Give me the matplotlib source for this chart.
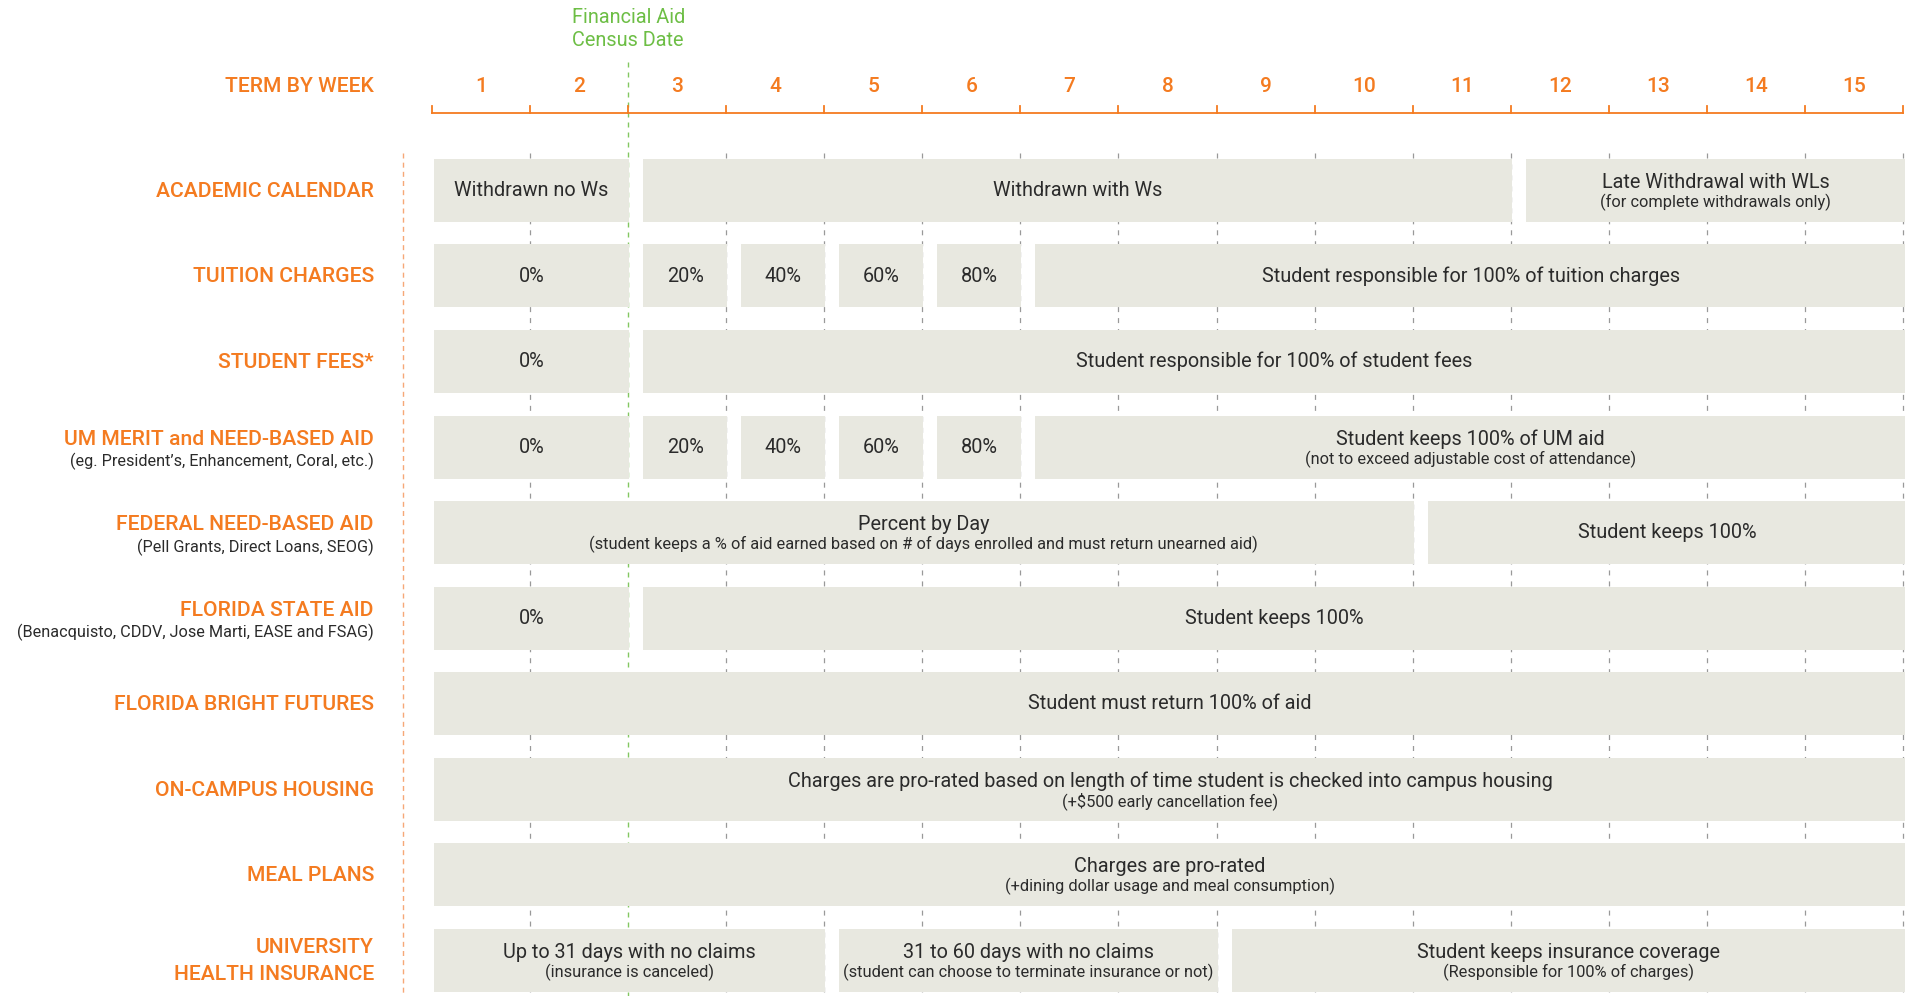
import matplotlib
matplotlib.use("Agg")
import matplotlib.pyplot as plt

plt.rcParams['font.family'] = ['Roboto', 'DejaVu Sans']
plt.rcParams['lines.scale_dashes'] = False

ORANGE = '#F47B20'
ORANGE_LIGHT = '#F6A877'
GREEN = '#6DBE45'
BAR = '#E8E8E0'
INK = '#2B2B2B'
GRID = '#999999'

# Data
weeks = list(range(1, 16))
census_week = 2

row_labels = ["ACADEMIC CALENDAR", "TUITION CHARGES", "STUDENT FEES*",
              "UM MERIT and NEED-BASED AID", "FEDERAL NEED-BASED AID",
              "FLORIDA STATE AID", "FLORIDA BRIGHT FUTURES",
              "ON-CAMPUS HOUSING", "MEAL PLANS", "UNIVERSITY\nHEALTH INSURANCE"]
row_notes = ["", "", "",
             "(eg. President\u2019s, Enhancement, Coral, etc.)",
             "(Pell Grants, Direct Loans, SEOG)",
             "(Benacquisto, CDDV, Jose Marti, EASE and FSAG)",
             "", "", "", ""]

# (start week, end week, text, small text)
academic = [(0, 2, "Withdrawn no Ws", ""),
            (2, 11, "Withdrawn with Ws", ""),
            (11, 15, "Late Withdrawal with WLs", "(for complete withdrawals only)")]
tuition = [(0, 2, "0%", ""), (2, 3, "20%", ""), (3, 4, "40%", ""),
           (4, 5, "60%", ""), (5, 6, "80%", ""),
           (6, 15, "Student responsible for 100% of tuition charges", "")]
fees = [(0, 2, "0%", ""),
        (2, 15, "Student responsible for 100% of student fees", "")]
um_aid = [(0, 2, "0%", ""), (2, 3, "20%", ""), (3, 4, "40%", ""),
          (4, 5, "60%", ""), (5, 6, "80%", ""),
          (6, 15, "Student keeps 100% of UM aid",
           "(not to exceed adjustable cost of attendance)")]
federal = [(0, 10, "Percent by Day",
            "(student keeps a % of aid earned based on # of days enrolled and must return unearned aid)"),
           (10, 15, "Student keeps 100%", "")]
state_aid = [(0, 2, "0%", ""), (2, 15, "Student keeps 100%", "")]
bright = [(0, 15, "Student must return 100% of aid", "")]
housing = [(0, 15, "Charges are pro-rated based on length of time student is checked into campus housing",
            "(+$500 early cancellation fee)")]
meals = [(0, 15, "Charges are pro-rated",
          "(+dining dollar usage and meal consumption)")]
health = [(0, 4, "Up to 31 days with no claims", "(insurance is canceled)"),
          (4, 8, "31 to 60 days with no claims",
           "(student can choose to terminate insurance or not)"),
          (8, 15, "Student keeps insurance coverage",
           "(Responsible for 100% of charges)")]
rows = [academic, tuition, fees, um_aid, federal, state_aid, bright,
        housing, meals, health]

# Layout (pixels of the 1906x996 canvas)
W, H = 1906, 996
px_week = 98.07
x_start = 432
row_px = 85.5
first_row = 190.5

fig = plt.figure(figsize=(W / 100, H / 100), dpi=100)
ax = fig.add_axes([0, 0, 1, 1])
ax.set_xlim(-x_start / px_week, (W - x_start) / px_week)
ax.set_ylim((H - first_row) / row_px, -first_row / row_px)
ax.axis('off')

def dx(p):
    return p / px_week

def ypx(p):
    return (p - first_row) / row_px

xmax = ax.get_xlim()[1]
ybot = ax.get_ylim()[0]
top_lines = ypx(153)

LABEL_FS = 15.2
NOTE_FS = 11.7
MAIN_FS = 14.3
SUB_FS = 11.8

# week boundaries (dashed)
for k in range(1, len(weeks) + 1):
    if k == census_week:
        continue
    ax.plot([k, k], [top_lines, ybot], color=GRID, lw=0.9,
            dashes=(3.6, 4.3), zorder=1)

# census date line
ax.plot([census_week, census_week], [ypx(62), ybot], color=GREEN, lw=1.0,
        dashes=(3.6, 3.6), alpha=0.85, zorder=1)
ax.text(census_week, ypx(29), "Financial Aid\nCensus Date", color=GREEN,
        fontsize=14.3, ha='center', va='center', linespacing=1.3)

# orange dashed separator
ax.plot([dx(403 - x_start)] * 2, [top_lines, ybot], color=ORANGE_LIGHT,
        lw=1.0, dashes=(3.6, 3.0), zorder=1)

# week axis
y_axis = ypx(113)
ax.plot([0, len(weeks)], [y_axis, y_axis], color=ORANGE, lw=1.3, zorder=3)
for k in range(0, len(weeks) + 1):
    ax.plot([k, k], [y_axis, ypx(106)], color=ORANGE, lw=1.3, zorder=3)
for w in weeks:
    ax.text(w - 0.5, ypx(86), str(w), color=ORANGE, fontsize=15,
            fontweight='medium', ha='center', va='center')

label_x = dx(374 - x_start)
ax.text(label_x, ypx(86), "TERM BY WEEK", color=ORANGE, fontsize=LABEL_FS,
        fontweight='medium', ha='right', va='center')

# bars
bar_h = 63 / row_px
for i, segs in enumerate(rows):
    for j, (s, e, txt, sub) in enumerate(segs):
        left = s + (dx(2) if j == 0 else dx(15))
        right = xmax if e == len(weeks) else e + dx(1)
        ax.barh(i, right - left, left=left, height=bar_h, color=BAR,
                edgecolor='none', zorder=2)
        cx = (left + right) / 2
        if sub:
            ax.text(cx, i - 2.5 / row_px, txt, color=INK, fontsize=MAIN_FS,
                    ha='center', va='baseline', zorder=4)
            ax.text(cx, i + 17 / row_px, sub, color=INK, fontsize=SUB_FS,
                    ha='center', va='baseline', zorder=4)
        else:
            ax.text(cx, i, txt, color=INK, fontsize=MAIN_FS, ha='center',
                    va='center', zorder=4)

    # row labels
    if row_notes[i]:
        ax.text(label_x, i - 8 / row_px, row_labels[i], color=ORANGE,
                fontsize=LABEL_FS, fontweight='medium', ha='right',
                va='center')
        ax.text(label_x, i + 14.5 / row_px, row_notes[i], color=INK,
                fontsize=NOTE_FS, ha='right', va='center')
    else:
        ax.text(label_x, i + 1 / row_px, row_labels[i], color=ORANGE,
                fontsize=LABEL_FS, fontweight='medium', ha='right',
                va='center', multialignment='right', linespacing=1.5)

fig.savefig("out.png", dpi=100)
